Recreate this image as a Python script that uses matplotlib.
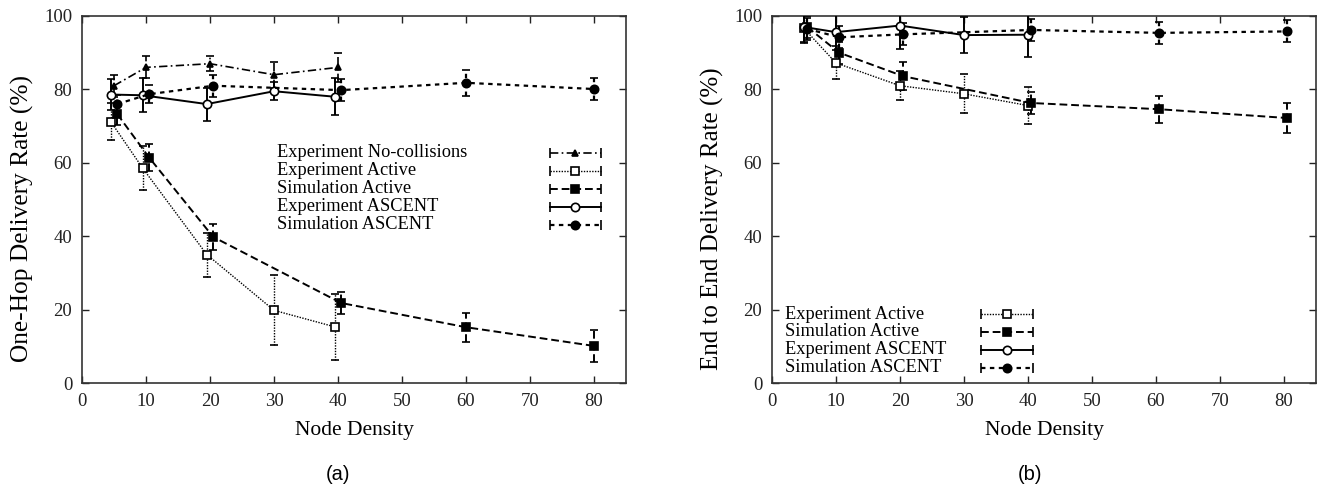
import matplotlib
matplotlib.use("Agg")
import matplotlib.pyplot as plt

# ---------------- data: panel (a) One-hop delivery ----------------
nc_x = [5, 10, 20, 30, 40]
nc_y = [81, 86, 87, 84, 86]
nc_e = [3, 3, 2, 3.5, 4]

ea_x = [4.5, 9.5, 19.5, 30, 39.5]
ea_y = [71.2, 58.5, 35.0, 19.8, 15.3]
ea_e = [5, 6, 6, 9.5, 9]

sa_x = [5.5, 10.5, 20.5, 40.5, 60, 80]
sa_y = [73.3, 61.4, 39.8, 21.8, 15.2, 10.1]
sa_e = [3, 3.7, 3.5, 3, 4, 4.3]

eas_x = [4.5, 9.5, 19.5, 30, 39.5]
eas_y = [78.6, 78.4, 76.0, 79.5, 78.0]
eas_e = [4.3, 4.6, 4.5, 2.5, 5]

sas_x = [5.5, 10.5, 20.5, 40.5, 60, 80]
sas_y = [76.0, 78.7, 81.0, 79.8, 81.8, 80.1]
sas_e = [2.5, 2.5, 3, 3, 3.5, 3]

# ---------------- data: panel (b) End-to-end delivery ----------------
ea2_x = [5, 10, 20, 30, 40]
ea2_y = [96.6, 87.2, 81.0, 78.8, 75.6]
ea2_e = [4, 4.5, 4, 5.3, 5]

sa2_x = [5.5, 10.5, 20.5, 40.5, 60.5, 80.5]
sa2_y = [97.0, 90.0, 83.6, 76.3, 74.6, 72.2]
sa2_e = [3, 3, 3.8, 3, 3.7, 4.2]

eas2_x = [5, 10, 20, 30, 40]
eas2_y = [97.0, 95.6, 97.4, 94.8, 94.9]
eas2_e = [4, 5, 6.5, 5, 6]

sas2_x = [5.5, 10.5, 20.5, 40.5, 60.5, 80.5]
sas2_y = [96.5, 94.2, 95.0, 96.2, 95.4, 95.8]
sas2_e = [3, 3, 3, 3, 3, 3]

xticks = [0, 10, 20, 30, 40, 50, 60, 70, 80]
yticks = [0, 20, 40, 60, 80, 100]

plt.rcParams['font.family'] = ['Liberation Serif', 'DejaVu Serif']

# style definitions
ST = {
    'nc':  dict(ls=(0, (5, 2, 1, 2)), marker='^', mfc='black', ms=5, lw=1.2),
    'ea':  dict(ls=(0, (1, 1)), marker='s', mfc='white', ms=6, lw=1.0),
    'sa':  dict(ls=(0, (4, 2)), marker='s', mfc='black', ms=6, lw=1.4),
    'eas': dict(ls='-', marker='o', mfc='white', ms=6, lw=1.4),
    'sas': dict(ls=(0, (2, 2)), marker='o', mfc='black', ms=6, lw=1.6),
}


def series(ax, x, y, e, key):
    s = ST[key]
    eb = ax.errorbar(x, y, yerr=e, color='black', ls=s['ls'], lw=s['lw'],
                     marker=s['marker'], mfc=s['mfc'], mec='black', mew=1.2,
                     ms=s['ms'], capsize=3, capthick=1.2, elinewidth=s['lw'],
                     zorder=3)
    for c in eb[2]:
        c.set_linestyle(s['ls'])
    return eb


def legend_row(ax, label, key, ytxt, xt, xs0, xs1):
    s = ST[key]
    ax.text(xt, ytxt, label, transform=ax.transAxes, fontsize=13.2,
            va='center', ha='left')
    ax.plot([xs0, xs1], [ytxt, ytxt], transform=ax.transAxes, color='black',
            ls=s['ls'], lw=s['lw'], clip_on=False)
    ax.plot([xs0, xs1], [ytxt, ytxt], transform=ax.transAxes, color='black',
            ls='none', marker='|', ms=7, mew=1.2, clip_on=False)
    ax.plot([(xs0 + xs1) / 2], [ytxt], transform=ax.transAxes, color='black',
            marker=s['marker'], mfc=s['mfc'], mec='black', mew=1.2,
            ms=s['ms'], ls='none', clip_on=False)


def style_axes(ax, ylabel, ylsize, labx):
    ax.set_xlim(0, 85)
    ax.set_ylim(0, 100)
    ax.set_xticks(xticks)
    ax.set_yticks(yticks)
    ax.tick_params(direction='in', top=True, right=True, length=5,
                   width=1, labelsize=13.5, pad=7, colors='#222')
    for sp in ax.spines.values():
        sp.set_color('#333')
        sp.set_linewidth(1.2)
    ax.set_xlabel('Node Density', fontsize=15.5, labelpad=8)
    ax.set_ylabel(ylabel, fontsize=ylsize)
    ax.yaxis.set_label_coords(labx, 0.447)


fig = plt.figure(figsize=(13.27, 4.92), dpi=100)
ax1 = fig.add_axes([82 / 1327, 1 - 383 / 492, 544 / 1327, 367 / 492])
ax2 = fig.add_axes([772 / 1327, 1 - 383 / 492, 544 / 1327, 367 / 492])

# panel (a)
series(ax1, nc_x, nc_y, nc_e, 'nc')
series(ax1, ea_x, ea_y, ea_e, 'ea')
series(ax1, sa_x, sa_y, sa_e, 'sa')
series(ax1, eas_x, eas_y, eas_e, 'eas')
series(ax1, sas_x, sas_y, sas_e, 'sas')
style_axes(ax1, 'One-Hop Delivery Rate (%)', 18.3, -0.088)
rows_a = [('Experiment No-collisions', 'nc'), ('Experiment Active', 'ea'),
          ('Simulation Active', 'sa'), ('Experiment ASCENT', 'eas'),
          ('Simulation ASCENT', 'sas')]
ya = [0.627, 0.578, 0.529, 0.480, 0.431]
for (lab, k), yy in zip(rows_a, ya):
    legend_row(ax1, lab, k, yy, 0.358, 0.860, 0.954)

# panel (b)
series(ax2, ea2_x, ea2_y, ea2_e, 'ea')
series(ax2, sa2_x, sa2_y, sa2_e, 'sa')
series(ax2, eas2_x, eas2_y, eas2_e, 'eas')
series(ax2, sas2_x, sas2_y, sas2_e, 'sas')
style_axes(ax2, 'End to End Delivery Rate (%)', 18, -0.088)
rows_b = [('Experiment Active', 'ea'), ('Simulation Active', 'sa'),
          ('Experiment ASCENT', 'eas'), ('Simulation ASCENT', 'sas')]
yb = [0.187, 0.139, 0.090, 0.042]
for (lab, k), yy in zip(rows_b, yb):
    legend_row(ax2, lab, k, yy, 0.024, 0.385, 0.480)

fig.text(338 / 1327, 1 - 475 / 492, '(a)', family='Liberation Sans',
         fontsize=14.5, ha='center', va='center')
fig.text(1030 / 1327, 1 - 475 / 492, '(b)', family='Liberation Sans',
         fontsize=14.5, ha='center', va='center')

fig.savefig('out.png', dpi=100)
